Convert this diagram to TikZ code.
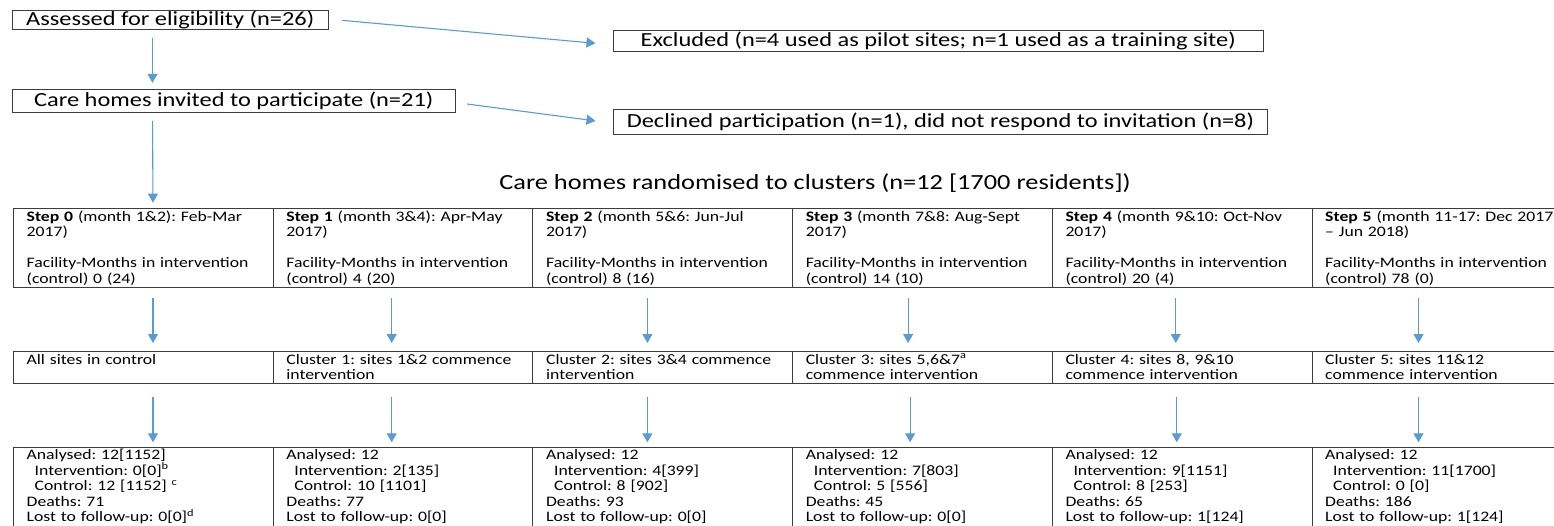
\documentclass[tikz,border=0pt]{standalone}
\usepackage{fontspec}
\setmainfont{Carlito}[FakeStretch=1.22]
\usetikzlibrary{arrows.meta}
\definecolor{arrblue}{HTML}{5B9BD5}
\definecolor{boxline}{HTML}{3C3C3C}
\tikzset{
  arr/.style={draw=arrblue, line width=1.1pt, -{Triangle[length=9pt,width=10pt]}},
  topbox/.style={draw=boxline, line width=1pt, inner sep=0pt, font=\fontsize{20}{22}\selectfont},
  cell/.style={draw=boxline, line width=1pt, inner sep=0pt, anchor=north west, minimum width=259.7pt},
  celltext/.style={inner sep=0pt, anchor=base west, text width=255pt, align=left, font=\fontsize{14.5}{15.5}\selectfont},
}
\newcommand{\ind}{\hspace*{8pt}}
\frenchspacing
\begin{document}
\begin{tikzpicture}[x=1pt,y=-1pt]
\useasboundingbox (0,0) rectangle (1554,526);
\clip (0,0) rectangle (1554,526);
\fill[white] (0,0) rectangle (1554,526);

% top flow
\node[topbox, minimum width=315.5pt, minimum height=19.3pt] (assess) at (170.25,20.35) {Assessed for eligibility (n=26)};
\node[topbox, minimum width=649.5pt, minimum height=21.5pt] (excl) at (938.25,41.2) {Excluded (n=4 used as pilot sites; n=1 used as a training site)};
\node[topbox, minimum width=442.5pt, minimum height=23pt] (invite) at (233.75,100.8) {Care homes invited to participate (n=21)};
\node[topbox, minimum width=654pt, minimum height=24.5pt] (decl) at (940.5,122.2) {Declined participation (n=1), did not respond to invitation (n=8)};
\node[inner sep=0pt, font=\fontsize{21.6}{24}\selectfont] (rand) at (815,183) {Care homes randomised to clusters (n=12 [1700 residents])};

% rows of cells
\foreach \i in {0,...,5}{
  \node[cell, minimum height=79pt] (s\i) at (13+259.7*\i,207.7) {};
  \node[cell, minimum height=31.7pt] (c\i) at (13+259.7*\i,351) {};
  \node[cell, minimum height=100pt] (b\i) at (13+259.7*\i,447.3) {};
}

\node[celltext] (st0) at (26.5,221.5) {\textbf{Step 0} (month 1\&2): Feb-Mar\\2017)\\[15.5pt]Facility-Months in intervention\\(control) 0 (24)};
\node[celltext] (st1) at (286.2,221.5) {\textbf{Step 1} (month 3\&4): Apr-May\\2017)\\[15.5pt]Facility-Months in intervention\\(control) 4 (20)};
\node[celltext] (st2) at (545.9,221.5) {\textbf{Step 2} (month 5\&6: Jun-Jul\\2017)\\[15.5pt]Facility-Months in intervention\\(control) 8 (16)};
\node[celltext] (st3) at (805.6,221.5) {\textbf{Step 3} (month 7\&8: Aug-Sept\\2017)\\[15.5pt]Facility-Months in intervention\\(control) 14 (10)};
\node[celltext] (st4) at (1065.3,221.5) {\textbf{Step 4} (month 9\&10: Oct-Nov\\2017)\\[15.5pt]Facility-Months in intervention\\(control) 20 (4)};
\node[celltext] (st5) at (1325,221.5) {\textbf{Step 5} (month 11-17: Dec 2017\\– Jun 2018)\\[15.5pt]Facility-Months in intervention\\(control) 78 (0)};

\node[celltext] (ct0) at (26.5,364) {All sites in control};
\node[celltext] (ct1) at (286.2,364) {Cluster 1: sites 1\&2 commence\\intervention};
\node[celltext] (ct2) at (545.9,364) {Cluster 2: sites 3\&4 commence\\intervention};
\node[celltext] (ct3) at (805.6,364) {Cluster 3: sites 5,6\&7\textsuperscript{a}\\commence intervention};
\node[celltext] (ct4) at (1065.3,364) {Cluster 4: sites 8, 9\&10\\commence intervention};
\node[celltext] (ct5) at (1325,364) {Cluster 5: sites 11\&12\\commence intervention};

\node[celltext] (bt0) at (26.5,459.5) {Analysed: 12[1152]\\\ind Intervention: 0[0]\textsuperscript{b}\\\ind Control: 12 [1152] \textsuperscript{c}\\Deaths: 71\\Lost to follow-up: 0[0]\textsuperscript{d}};
\node[celltext] (bt1) at (286.2,459.5) {Analysed: 12\\\ind Intervention: 2[135]\\\ind Control: 10 [1101]\\Deaths: 77\\Lost to follow-up: 0[0]};
\node[celltext] (bt2) at (545.9,459.5) {Analysed: 12\\\ind Intervention: 4[399]\\\ind Control: 8 [902]\\Deaths: 93\\Lost to follow-up: 0[0]};
\node[celltext] (bt3) at (805.6,459.5) {Analysed: 12\\\ind Intervention: 7[803]\\\ind Control: 5 [556]\\Deaths: 45\\Lost to follow-up: 0[0]};
\node[celltext] (bt4) at (1065.3,459.5) {Analysed: 12\\\ind Intervention: 9[1151]\\\ind Control: 8 [253]\\Deaths: 65\\Lost to follow-up: 1[124]};
\node[celltext] (bt5) at (1325,459.5) {Analysed: 12\\\ind Intervention: 11[1700]\\\ind Control: 0 [0]\\Deaths: 186\\Lost to follow-up: 1[124]};

% connectors
\draw[arr] ([xshift=13.5pt]assess.east) -- ([xshift=-17.5pt,yshift=-2.1pt]excl.west);
\draw[arr] ([xshift=11.5pt,yshift=-3.2pt]invite.east) -- ([xshift=-17.5pt,yshift=1.3pt]decl.west);
\draw[arr, shorten <=8pt, shorten >=6pt] ([xshift=140.5pt]assess.south west) -- ([xshift=140.5pt]invite.north west);
\draw[arr, shorten <=8pt, shorten >=5pt] ([xshift=140.5pt]invite.south west) -- ([xshift=140pt]s0.north west);

\foreach \i/\dx/\ex in {0/140/140, 1/119/119, 2/115/115, 3/116/118, 4/124/125, 5/107/107}{
  \draw[arr, shorten <=10pt, shorten >=8pt] ([xshift=\dx pt]s\i.south west) -- ([xshift=\dx pt]c\i.north west);
  \draw[arr, shorten <=13pt, shorten >=5pt] ([xshift=\ex pt]c\i.south west) -- ([xshift=\ex pt]b\i.north west);
}
\end{tikzpicture}
\end{document}
